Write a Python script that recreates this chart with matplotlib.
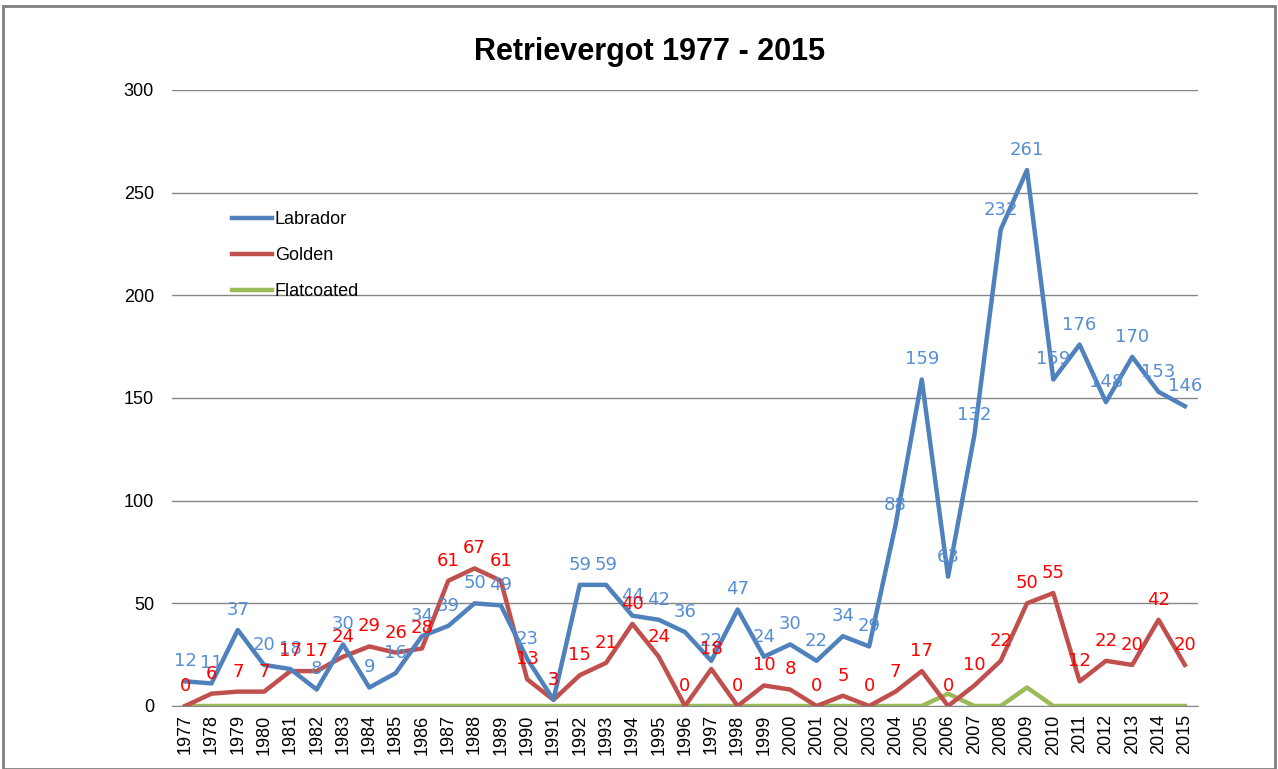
import matplotlib
matplotlib.use("Agg")
import matplotlib.pyplot as plt
from matplotlib.patches import Rectangle

years = list(range(1977, 2016))
labrador = [12, 11, 37, 20, 18, 8, 30, 9, 16, 34, 39, 50, 49, 23, 3, 59, 59, 44, 42, 36,
            22, 47, 24, 30, 22, 34, 29, 88, 159, 63, 132, 232, 261, 159, 176, 148, 170, 153, 146]
golden = [0, 6, 7, 7, 17, 17, 24, 29, 26, 28, 61, 67, 61, 13, 3, 15, 21, 40, 24, 0,
          18, 0, 10, 8, 0, 5, 0, 7, 17, 0, 10, 22, 50, 55, 12, 22, 20, 42, 20]
flatcoated = [0, 0, 0, 0, 0, 0, 0, 0, 0, 0, 0, 0, 0, 0, 0, 0, 0, 0, 0, 0,
              0, 0, 0, 0, 0, 0, 0, 0, 0, 6, 0, 0, 9, 0, 0, 0, 0, 0, 0]
yticks = [0, 50, 100, 150, 200, 250, 300]

plt.rcParams['font.family'] = ['Liberation Sans', 'DejaVu Sans']

W, H = 1278, 769
fig = plt.figure(figsize=(W / 100, H / 100), dpi=100)
ax = fig.add_axes([172 / W, 1 - 706 / H, (1198 - 172) / W, (706 - 90) / H])

x = list(range(len(years)))
c_lab, c_gold, c_flat = '#4F81BD', '#C0504D', '#9BBB59'
ax.plot(x, labrador, color=c_lab, lw=3.2, label='Labrador', zorder=4, solid_joinstyle='round')
ax.plot(x, golden, color=c_gold, lw=3.2, label='Golden', zorder=3, solid_joinstyle='round')
ax.plot(x, flatcoated, color=c_flat, lw=3.2, label='Flatcoated', zorder=2, solid_joinstyle='round')

for xi, v in zip(x, labrador):
    ax.annotate(str(v), (xi, v), xytext=(0, 8), textcoords='offset points',
                ha='center', va='bottom', color='#558ED5', fontsize=13,
                family=['DejaVu Sans'], zorder=5)
for xi, v in zip(x, golden):
    ax.annotate(str(v), (xi, v), xytext=(0, 8), textcoords='offset points',
                ha='center', va='bottom', color='#FF0000', fontsize=13,
                family=['DejaVu Sans'], zorder=5)

ax.set_xlim(-0.5, len(years) - 0.5)
ax.set_ylim(0, 300)
ax.set_yticks(yticks)
ax.set_yticklabels([str(t) for t in yticks], fontsize=13)
ax.set_xticks(x)
ax.set_xticklabels([str(y) for y in years], rotation=90, fontsize=13)
ax.tick_params(axis='both', length=0, pad=6)
ax.tick_params(axis='y', pad=13)
ax.grid(axis='y', color='#868686', lw=1)
ax.set_axisbelow(True)
for s in ['top', 'right', 'left']:
    ax.spines[s].set_visible(False)
ax.spines['bottom'].set_color('#868686')

leg = ax.legend(loc='upper left', bbox_to_anchor=(0.043, 0.83), frameon=False,
                fontsize=13, handlelength=2.2, handletextpad=0.15, labelspacing=1.05)

fig.text(650 / W, 1 - 52 / H, 'Retrievergot 1977 - 2015', ha='center', va='center',
         fontsize=22, fontweight='bold')

fig.patches.append(Rectangle((3 / W, 0), (1275 - 3) / W, 1 - 6 / H, transform=fig.transFigure,
                             fill=False, edgecolor='#7F7F7F', lw=2))

fig.savefig('out.png', dpi=100)
